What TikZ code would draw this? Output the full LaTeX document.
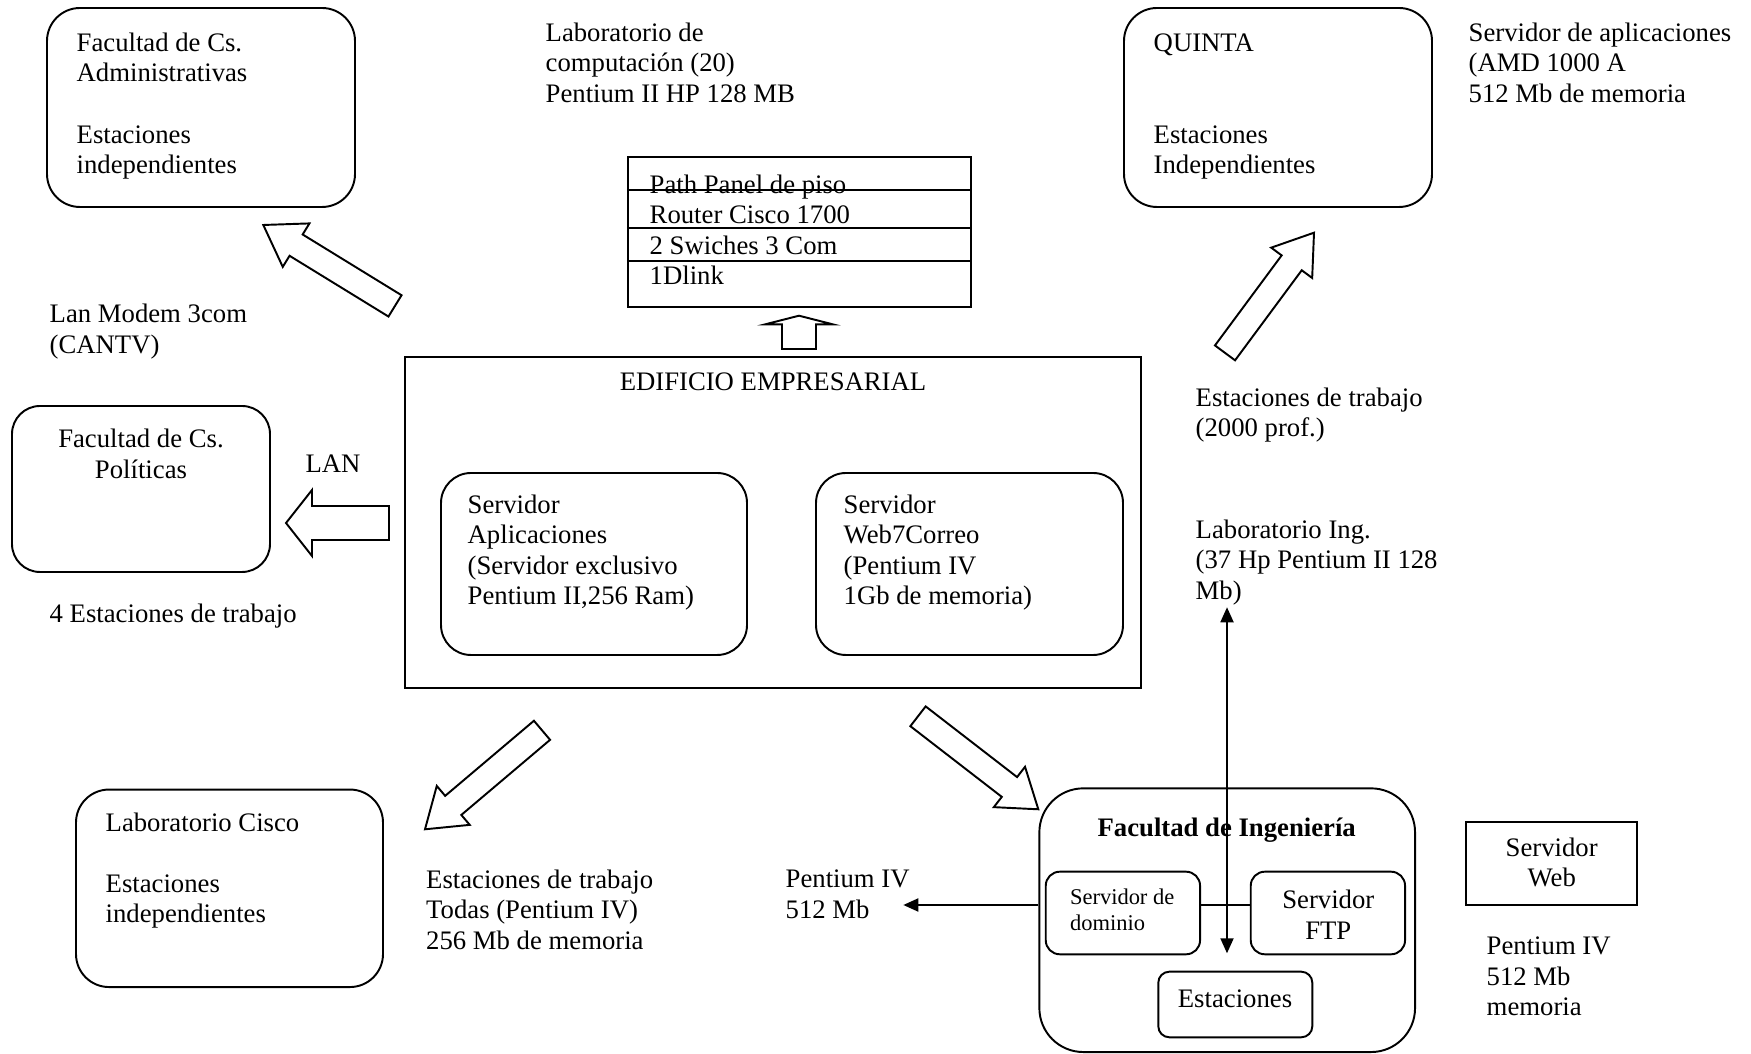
\documentclass[tikz,border=0pt]{standalone}
\usepackage{fontspec}
\setmainfont{Liberation Serif}
\usepackage{tikz}
\usetikzlibrary{calc,arrows.meta}
\newcommand{\normsize}{\fontsize{7.6pt}{8.7pt}\selectfont}
\newcommand{\smallsize}{\fontsize{6.4pt}{7.6pt}\selectfont}
\tikzstyle{box}=[draw, line width=0.55pt, rounded corners=3.3mm, inner sep=0pt]
\tikzstyle{plain}=[draw, line width=0.55pt, inner sep=0pt]
\tikzstyle{txt}=[inner sep=0pt, align=left, anchor=base west]
\tikzstyle{ctxt}=[inner sep=0pt, align=center, anchor=base]
\tikzstyle{line}=[line width=0.55pt]
\tikzset{tri/.tip={Triangle[length=1.5mm,width=1.3mm]}}
% tail, tip, half shaft, half head, head length
\newcommand{\bigarrow}[5]{%
	\coordinate (hb) at ($(#2)!#5!(#1)$);
	\draw[line, line join=miter] ($(#1)!#3!90:(#2)$) -- ($(hb)!#3!90:(#2)$) -- ($(hb)!#4!90:(#2)$) -- (#2)
		-- ($(hb)!#4!-90:(#2)$) -- ($(hb)!#3!-90:(#2)$) -- ($(#1)!#3!-90:(#2)$) -- cycle;
}

\begin{document}
\begin{tikzpicture}[x=0.1mm, y=-0.1mm, font=\normsize]
		   \useasboundingbox (0,0) rectangle (1751,1054);
		   \begin{scope}
			   \node (admin) at (201,107.5)[box, minimum width=30.8mm, minimum height=19.9mm] {};
			   \node (quinta) at (1278,107.5)[box, minimum width=30.8mm, minimum height=19.9mm] {};
			   \node (panel) at (799.3,231.8)[plain, minimum width=34.27mm, minimum height=14.97mm] {};
			   \node (edif) at (773.3,522.6)[plain, minimum width=73.6mm, minimum height=33.06mm] {};
			   \node (aplic) at (594,564)[box, rounded corners=3mm, minimum width=30.6mm, minimum height=18.2mm] {};
			   \node (web7) at (969.5,564)[box, rounded corners=3mm, minimum width=30.7mm, minimum height=18.2mm] {};
			   \node (polit) at (141,489)[box, rounded corners=2.8mm, minimum width=25.8mm, minimum height=16.6mm] {};
			   \node (cisco) at (229.5,888.3)[box, minimum width=30.7mm, minimum height=19.75mm] {};
			   \node (ing) at (1227.2,920.2)[box, rounded corners=4.4mm, minimum width=37.57mm, minimum height=26.37mm] {};
			   \node (dominio) at (1122.9,913)[box, rounded corners=1.4mm, minimum width=15.43mm, minimum height=8.26mm] {};
			   \node (ftp) at (1327.9,913)[box, rounded corners=1.4mm, minimum width=15.43mm, minimum height=8.26mm] {};
			   \node (estac) at (1235.3,1004.5)[box, rounded corners=1.1mm, minimum width=15.4mm, minimum height=6.56mm] {};
			   \node (web) at (1551.5,863.4)[plain, minimum width=17.16mm, minimum height=8.33mm] {};
			   \foreach \d in {33.7,72,105}
				   \draw[line] ($(panel.north west)+(0,\d)$) -- ($(panel.north east)+(0,\d)$);
		   \end{scope}
		   % text nodes sit on the baseline of their last line
		   \begin{scope}
			   \node (t1) at (76,173.6)[txt] {Facultad de Cs.\\Administrativas\\[8.7pt]Estaciones\\independientes};
			   \node (t2) at (545,102.3)[txt] {Laboratorio de\\computación (20)\\Pentium II HP 128 MB};
			   \node (t3) at (649,285)[txt] {Path Panel de piso\\Router Cisco 1700\\2 Swiches 3 Com\\1Dlink};
			   \node (t4) at (1153,173.6)[txt] {QUINTA\\[17.4pt]Estaciones\\Independientes};
			   \node (t5) at (1468,102.3)[txt] {Servidor de aplicaciones\\(AMD 1000 A\\512 Mb de memoria};
			   \node (t6) at (49,353.5)[txt] {Lan Modem 3com\\(CANTV)};
			   \node (t7) at (141,478.4)[ctxt] {Facultad de Cs.\\Políticas};
			   \node (t8) at (333,472.5)[ctxt] {LAN};
			   \node (t9) at (49,622.5)[txt] {4 Estaciones de trabajo};
			   \node (t10) at (773,390.5)[ctxt] {EDIFICIO EMPRESARIAL};
			   \node (t11) at (467,605)[txt] {Servidor\\Aplicaciones\\(Servidor exclusivo\\Pentium II,256 Ram)};
			   \node (t12) at (843,605)[txt] {Servidor\\Web7Correo\\(Pentium IV\\1Gb de memoria)};
			   \node (t13) at (1195,437)[txt] {Estaciones de trabajo\\(2000 prof.)};
			   \node (t14) at (1195,599.3)[txt] {Laboratorio Ing.\\(37 Hp Pentium II 128\\Mb)};
			   \node (t15) at (105,923)[txt] {Laboratorio Cisco\\[8.7pt]Estaciones\\independientes};
			   \node (t16) at (425.5,949.5)[txt] {Estaciones de trabajo\\Todas (Pentium IV)\\256 Mb de memoria};
			   \node (t17) at (785,918.5)[txt] {Pentium IV\\512 Mb};
			   \node (t18) at (1226.7,836.8)[ctxt, font=\normsize\bfseries] {Facultad de Ingeniería};
			   \node (t19) at (1069.3,930.8)[txt, font=\smallsize] {Servidor de\\dominio};
			   \node (t20) at (1328.3,939.4)[ctxt] {Servidor\\FTP};
			   \node (t21) at (1235,1007.5)[ctxt] {Estaciones};
			   \node (t22) at (1551.7,886.8)[ctxt] {Servidor\\Web};
			   \node (t23) at (1486,1016)[txt] {Pentium IV\\512 Mb\\memoria};
		   \end{scope}
		   \begin{scope}
			   \coordinate (a1s) at (395,305.9);
			   \coordinate (a1e) at (263.3,225);
			   \coordinate (a2s) at (1225,352.9);
			   \coordinate (a2e) at (1314,232.7);
			   \coordinate (a3s) at (799,349);
			   \coordinate (a3e) at (799,315.7);
			   \coordinate (a4s) at (389,523);
			   \coordinate (a4e) at (286,523);
			   \coordinate (a5s) at (542,730.3);
			   \coordinate (a5e) at (425,829.3);
			   \coordinate (a6s) at (918,716.3);
			   \coordinate (a6e) at (1038.3,809.3);
			   \coordinate (ingtop) at (1227,607.3);
			   \coordinate (ingbot) at (1227,953.3);
			   \coordinate (p4tip) at (903.3,905);
			   \bigarrow{a1s}{a1e}{1.25mm}{2.55mm}{3.85mm}
			   \bigarrow{a2s}{a2e}{1.25mm}{2.55mm}{3.75mm}
			   \bigarrow{a3s}{a3e}{1.7mm}{3.4mm}{0.87mm}
			   \bigarrow{a4s}{a4e}{1.7mm}{3.3mm}{2.6mm}
			   \bigarrow{a5s}{a5e}{1.25mm}{2.55mm}{3.7mm}
			   \bigarrow{a6s}{a6e}{1.25mm}{2.55mm}{3.65mm}
			   \draw[line, tri-tri] (ingtop) -- (ingbot);
			   \draw[line, -tri] (ing.west |- p4tip) -- (p4tip);
			   \draw[line] (dominio.east |- p4tip) -- (ftp.west |- p4tip);
		   \end{scope}
\end{tikzpicture}
\end{document}
